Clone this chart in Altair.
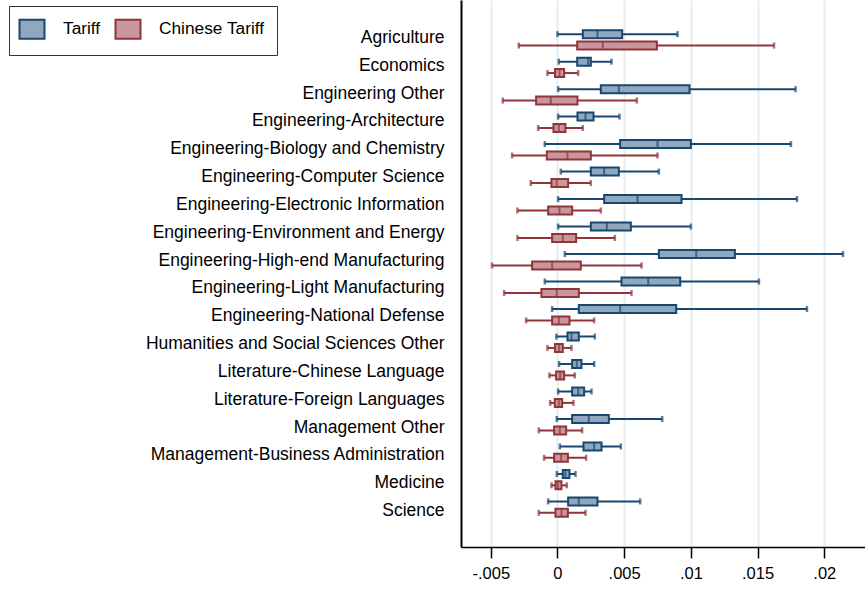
import altair as alt
import pandas as pd

categories = [
    "Agriculture", "Economics", "Engineering Other", "Engineering-Architecture",
    "Engineering-Biology and Chemistry", "Engineering-Computer Science",
    "Engineering-Electronic Information", "Engineering-Environment and Energy",
    "Engineering-High-end Manufacturing", "Engineering-Light Manufacturing",
    "Engineering-National Defense", "Humanities and Social Sciences Other",
    "Literature-Chinese Language", "Literature-Foreign Languages",
    "Management Other", "Management-Business Administration", "Medicine", "Science",
]
series_names = ["Tariff", "Chinese Tariff"]

tariff_min = [0.0, 0.0001, 0.00005, 0.00005, -0.00095, 0.00025, 0.00005, 0.00005, 0.00055,
              -0.00095, -0.0004, -0.00008, 0.00012, 0.00005, -0.00005, 0.00018, -0.00005, -0.0007]
tariff_q1 = [0.0019, 0.00148, 0.00325, 0.0015, 0.0047, 0.0025, 0.0035, 0.0025, 0.0076,
             0.0048, 0.0016, 0.00075, 0.0011, 0.0011, 0.0011, 0.00195, 0.0004, 0.0008]
tariff_med = [0.003, 0.0023, 0.0046, 0.0021, 0.0075, 0.0035, 0.006, 0.0037, 0.0104,
              0.0068, 0.0047, 0.00105, 0.00145, 0.00155, 0.00235, 0.00275, 0.0006, 0.0016]
tariff_q3 = [0.00485, 0.0025, 0.0099, 0.0027, 0.01, 0.0046, 0.0093, 0.0055, 0.0133,
             0.0092, 0.0089, 0.0016, 0.0018, 0.002, 0.00385, 0.0033, 0.0009, 0.003]
tariff_max = [0.009, 0.00405, 0.01785, 0.00465, 0.0175, 0.0076, 0.01795, 0.01, 0.0214,
              0.0151, 0.0187, 0.0028, 0.00275, 0.00255, 0.00785, 0.00475, 0.00135, 0.0062]

cn_min = [-0.0029, -0.00075, -0.0041, -0.00145, -0.0034, -0.002, -0.003, -0.003, -0.0049,
          -0.004, -0.00235, -0.00075, -0.0006, -0.00055, -0.0014, -0.001, -0.00045, -0.0014]
cn_q1 = [0.00148, -0.00018, -0.0016, -0.0003, -0.0008, -0.00045, -0.0007, -0.0004, -0.0019,
         -0.0012, -0.0004, -0.00018, -0.0001, -0.0002, -0.00025, -0.00025, -0.00015, -0.00015]
cn_med = [0.0034, 0.00015, -0.0005, 0.0001, 0.00075, -0.00005, 0.00015, 0.0004, -0.0004,
          -0.00005, 0.0001, 0.00012, 0.0002, 0.0001, 0.00018, 0.00028, 0.00003, 0.0003]
cn_q3 = [0.00745, 0.0005, 0.0015, 0.0006, 0.0025, 0.0008, 0.0011, 0.0014, 0.00175,
         0.0016, 0.0009, 0.0004, 0.0005, 0.00035, 0.00065, 0.00078, 0.0003, 0.00078]
cn_max = [0.01623, 0.00155, 0.00595, 0.0019, 0.0075, 0.0025, 0.00325, 0.0043, 0.0063,
          0.00555, 0.00275, 0.00105, 0.0013, 0.0012, 0.00185, 0.00215, 0.0007, 0.0021]

tick_values = [-0.005, 0, 0.005, 0.01, 0.015, 0.02]
tick_labels = ["-.005", "0", ".005", ".01", ".015", ".02"]

rows = []
for i, c in enumerate(categories):
    rows.append(dict(category=c, series="Tariff", lo=tariff_min[i], q1=tariff_q1[i],
                     med=tariff_med[i], q3=tariff_q3[i], hi=tariff_max[i]))
    rows.append(dict(category=c, series="Chinese Tariff", lo=cn_min[i], q1=cn_q1[i],
                     med=cn_med[i], q3=cn_q3[i], hi=cn_max[i]))
df = pd.DataFrame(rows)

dark = ["#1a476f", "#90353b"]
light = ["#90a8bf", "#c9969b"]
FONT = "Liberation Sans"

label_expr = "".join(
    f"abs(datum.value - ({v})) < 1e-9 ? '{l}' : " for v, l in zip(tick_values, tick_labels)
) + "''"

xscale = alt.Scale(domain=[-0.00723, 0.02305], nice=False, zero=False)
xaxis = alt.Axis(values=tick_values, labelExpr=label_expr, title=None, grid=True,
                 gridColor="#e4edf0", gridWidth=2, tickSize=11, tickWidth=1.5,
                 tickColor="black", domainColor="black", domainWidth=1.5,
                 labelPadding=7, labelFontSize=16.5)
yenc = alt.Y("category:N", sort=categories, title=None,
             scale=alt.Scale(domain=categories, paddingOuter=0.95, paddingInner=0),
             axis=alt.Axis(ticks=False, domain=True, domainColor="black", domainWidth=2,
                           labelPadding=17, grid=False, labelLimit=0, labelFontSize=17.5,
                           labelOffset={"expr": "-2 + 6 * datum.index"}))
yoff = alt.YOffset("series:N", sort=series_names,
                   scale=alt.Scale(domain=series_names, paddingOuter=0.206, paddingInner=0))
# color scale (no legend) for lines/ticks; reversed domain order keeps it apart from the legend scales
col = alt.Color("series:N", legend=None,
                scale=alt.Scale(domain=series_names[::-1], range=dark[::-1]))

base = alt.Chart(df).encode(y=yenc, yOffset=yoff)

whisker = base.mark_rule(strokeWidth=2).encode(
    x=alt.X("lo:Q", scale=xscale, axis=xaxis), x2="hi:Q", color=col)
cap_lo = base.mark_tick(size=6, thickness=2.5).encode(x=alt.X("lo:Q"), color=col)
cap_hi = base.mark_tick(size=6, thickness=2.5).encode(x=alt.X("hi:Q"), color=col)

leg = alt.Legend(
    title=None, orient="none", legendX=-452, legendY=6, direction="horizontal",
    symbolType="M-1.25,-0.95L1.25,-0.95L1.25,0.95L-1.25,0.95Z", symbolSize=400,
    symbolStrokeWidth=2, labelFont=FONT, labelFontSize=17.3, labelColor="black",
    labelOffset=20, columnPadding=10, padding=12, strokeColor="#333333",
    fillColor="white", cornerRadius=0,
)
box = base.mark_bar(size=8, strokeWidth=2).encode(
    x=alt.X("q1:Q"), x2="q3:Q",
    fill=alt.Fill("series:N", scale=alt.Scale(domain=series_names, range=light), legend=leg),
    stroke=alt.Stroke("series:N", scale=alt.Scale(domain=series_names, range=dark), legend=leg),
)
median = base.mark_tick(size=8, thickness=2).encode(x=alt.X("med:Q"), color=col)

chart = alt.layer(whisker, cap_lo, cap_hi, box, median).properties(
    width=404, height=547,
    autosize=alt.AutoSizeParams(type="none"),
    padding={"left": 461, "top": 0, "right": 0, "bottom": 43},
).configure_view(stroke=None).configure_axis(
    labelFont=FONT, labelColor="black"
)

chart.save("out.html", embed_options={"renderer": "svg", "actions": False})
